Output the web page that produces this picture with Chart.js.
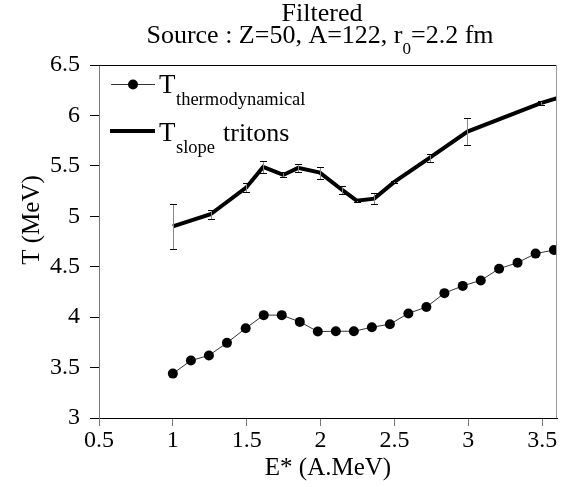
<!DOCTYPE html>
<html>
<head>
<meta charset="utf-8">
<script src="https://cdn.jsdelivr.net/npm/chart.js@4"></script>
<style>
  html, body { margin: 0; padding: 0; background: #fff; }
  #wrap { width: 574px; height: 487px; }
</style>
</head>
<body>
<div id="wrap"><canvas id="c" width="574" height="487"></canvas></div>
<script>
// ---- Data ----
const thermoE = [1.0, 1.122, 1.244, 1.366, 1.493, 1.615, 1.737, 1.859, 1.981, 2.103, 2.225, 2.347, 2.469, 2.594, 2.716, 2.838, 2.962, 3.084, 3.208, 3.333, 3.455, 3.579];
const thermoT = [3.44, 3.57, 3.62, 3.745, 3.89, 4.02, 4.02, 3.953, 3.857, 3.86, 3.86, 3.90, 3.93, 4.037, 4.10, 4.238, 4.31, 4.364, 4.48, 4.54, 4.63, 4.665];
const slopeE = [1.0, 1.255, 1.496, 1.611, 1.747, 1.848, 1.995, 2.146, 2.244, 2.363, 2.497, 2.74, 2.994, 3.49, 3.6];
const slopeT = [4.90, 5.02, 5.284, 5.49, 5.41, 5.48, 5.433, 5.261, 5.155, 5.175, 5.338, 5.582, 5.84, 6.122, 6.17];
const slopeErr = [0.22, 0.045, 0.048, 0.06, 0.025, 0.04, 0.06, 0.04, 0.01, 0.055, 0.01, 0.04, 0.135, 0.02, 0];
const xTicks = [0.5, 1, 1.5, 2, 2.5, 3, 3.5];
const yTicks = [3, 3.5, 4, 4.5, 5, 5.5, 6, 6.5];
const titleLine1 = "Filtered";
const xTitle = "E* (A.MeV)";
const yTitle = "T (MeV)";

const SERIF = "Liberation Serif";
Chart.defaults.font.family = SERIF;

const thermoData = thermoE.map((e, i) => ({x: e, y: thermoT[i]}));
const slopeData = slopeE.map((e, i) => ({x: e, y: slopeT[i]}));

function setFont(ctx, size) { ctx.font = size + 'px "' + SERIF + '"'; }
function drawSub(ctx, parts, x, y) {
  let cx = x;
  for (const p of parts) {
    setFont(ctx, p.size);
    ctx.fillText(p.t, cx, y + (p.dy || 0));
    cx += ctx.measureText(p.t).width;
  }
  return cx;
}
function measureParts(ctx, parts) {
  let w = 0;
  for (const p of parts) { setFont(ctx, p.size); w += ctx.measureText(p.t).width; }
  return w;
}

const decor = {
  id: 'decor',
  afterDatasetsDraw(chart) {
    const ctx = chart.ctx;
    const xs = chart.scales.x, ys = chart.scales.y;
    ctx.save();
    slopeE.forEach((e, i) => {
      const err = slopeErr[i];
      if (!err) return;
      const px = Math.round(xs.getPixelForValue(e));
      const top = Math.round(ys.getPixelForValue(slopeT[i] + err));
      const bot = Math.round(ys.getPixelForValue(slopeT[i] - err));
      ctx.strokeStyle = '#888';
      ctx.lineWidth = 1;
      ctx.beginPath(); ctx.moveTo(px + 0.5, top); ctx.lineTo(px + 0.5, bot); ctx.stroke();
      ctx.strokeStyle = '#000';
      ctx.beginPath();
      ctx.moveTo(px - 3, top + 0.5); ctx.lineTo(px + 4, top + 0.5);
      ctx.moveTo(px - 3, bot + 0.5); ctx.lineTo(px + 4, bot + 0.5);
      ctx.stroke();
    });
    ctx.restore();
  },
  afterDraw(chart) {
    const ctx = chart.ctx;
    const a = chart.chartArea;
    ctx.save();
    ctx.lineWidth = 1;
    ctx.strokeStyle = '#000';
    ctx.beginPath(); ctx.moveTo(a.left, a.top + 0.5); ctx.lineTo(a.right, a.top + 0.5); ctx.stroke();
    ctx.strokeStyle = '#999';
    ctx.beginPath(); ctx.moveTo(a.right - 0.5, a.top); ctx.lineTo(a.right - 0.5, a.bottom); ctx.stroke();

    ctx.fillStyle = '#000';
    ctx.textBaseline = 'alphabetic';
    ctx.textAlign = 'left';
    // title
    setFont(ctx, 26);
    const w1 = ctx.measureText(titleLine1).width;
    ctx.fillText(titleLine1, 322 - w1 / 2, 21);
    const t2 = [{t: 'Source : Z=50, A=122, r', size: 26}, {t: '0', size: 17, dy: 11}, {t: '=2.2 fm', size: 26}];
    const w2 = measureParts(ctx, t2);
    drawSub(ctx, t2, 320 - w2 / 2, 43);

    // legend
    ctx.strokeStyle = '#333'; ctx.lineWidth = 1;
    ctx.beginPath(); ctx.moveTo(111, 84.5); ctx.lineTo(155, 84.5); ctx.stroke();
    ctx.beginPath(); ctx.arc(133, 84.5, 5, 0, Math.PI * 2); ctx.fillStyle = '#000'; ctx.fill();
    drawSub(ctx, [{t: 'T', size: 27}], 159, 93);
    drawSub(ctx, [{t: 'thermodynamical', size: 18.5}], 176, 105);
    ctx.strokeStyle = '#000'; ctx.lineWidth = 4;
    ctx.beginPath(); ctx.moveTo(110, 131); ctx.lineTo(155, 131); ctx.stroke();
    drawSub(ctx, [{t: 'T', size: 27}], 159, 141);
    drawSub(ctx, [{t: 'slope', size: 18.5}], 176, 153);
    drawSub(ctx, [{t: 'tritons', size: 26}], 223, 141);

    // axis titles
    setFont(ctx, 25);
    ctx.textAlign = 'center';
    ctx.fillText(xTitle, 328, 475);
    ctx.save();
    ctx.translate(39, 220);
    ctx.rotate(-Math.PI / 2);
    ctx.fillText(yTitle, 0, 0);
    ctx.restore();
    ctx.restore();
  }
};

new Chart(document.getElementById('c'), {
  type: 'scatter',
  data: {
    datasets: [
      {
        label: 'T thermodynamical',
        data: thermoData,
        showLine: true,
        borderColor: '#333',
        borderWidth: 1,
        pointRadius: 5,
        pointBackgroundColor: '#000',
        pointBorderColor: '#000',
        pointBorderWidth: 0,
        tension: 0
      },
      {
        label: 'T slope tritons',
        data: slopeData,
        showLine: true,
        borderColor: '#000',
        borderWidth: 4,
        pointRadius: 0,
        tension: 0
      }
    ]
  },
  options: {
    responsive: false,
    animation: false,
    devicePixelRatio: 1,
    layout: { padding: { top: 65, right: 17, bottom: 0, left: 0 } },
    plugins: { legend: { display: false }, tooltip: { enabled: false }, title: { display: false } },
    scales: {
      x: {
        type: 'linear',
        min: 0.5, max: 3.6,
        afterFit: s => { s.height = 69; },
        afterBuildTicks: s => { s.ticks = xTicks.map(v => ({value: v})); },
        grid: { display: true, drawOnChartArea: false, drawTicks: true, tickLength: 8, tickColor: '#777', color: '#777' },
        border: { display: true, color: '#000', width: 1 },
        ticks: { color: '#000', font: { family: SERIF, size: 24 }, padding: 0, maxRotation: 0, autoSkip: false, callback: v => String(v) }
      },
      y: {
        type: 'linear',
        min: 3, max: 6.5,
        afterFit: s => { s.width = 99; },
        afterBuildTicks: s => { s.ticks = yTicks.map(v => ({value: v})); },
        grid: { display: true, drawOnChartArea: false, drawTicks: true, tickLength: 9, tickColor: '#000', color: '#000' },
        border: { display: true, color: '#777', width: 1 },
        ticks: { color: '#000', font: { family: SERIF, size: 24 }, padding: 10, autoSkip: false, callback: v => String(v) }
      }
    }
  },
  plugins: [decor]
});
</script>
</body>
</html>
